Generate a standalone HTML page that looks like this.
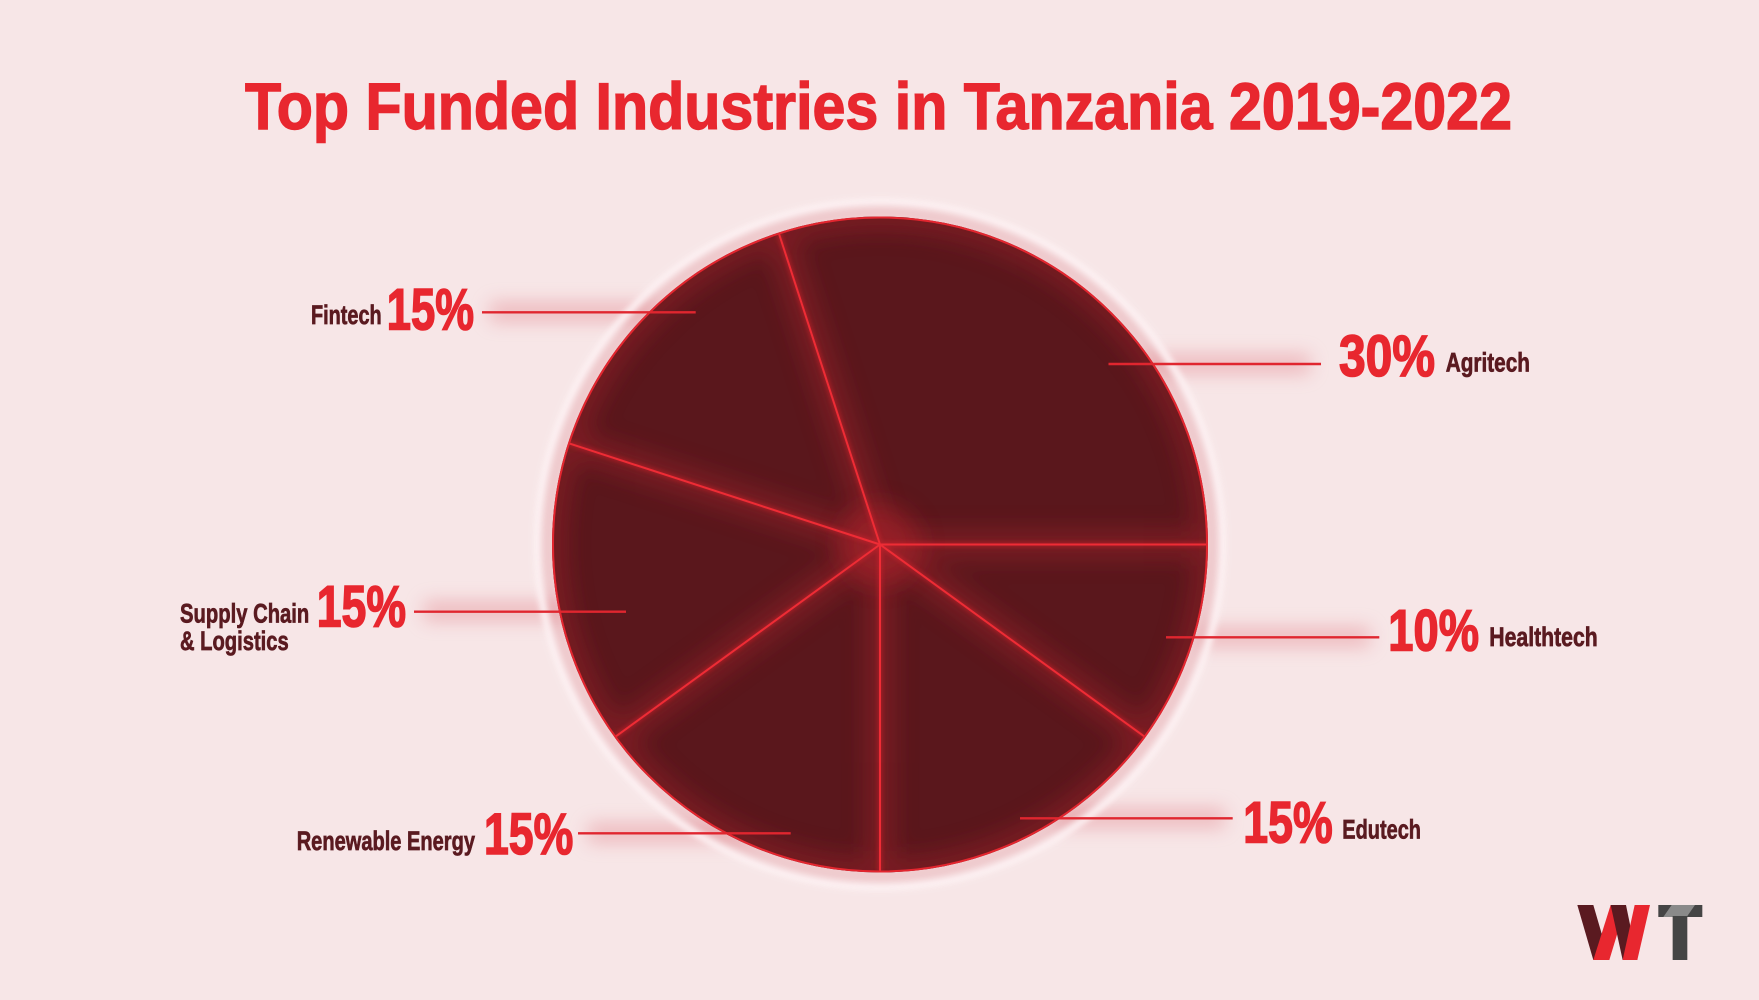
<!DOCTYPE html>
<html>
<head>
<meta charset="utf-8">
<style>
  html,body{margin:0;padding:0;background:#f7e6e7;}
  svg{display:block;}
  .pct{font-family:"Liberation Sans Narrow","Liberation Sans",sans-serif;font-weight:bold;fill:#e8272f;stroke:#e8272f;stroke-width:1.6;}
  .lab{font-family:"Liberation Sans Narrow","Liberation Sans",sans-serif;font-weight:bold;fill:#5a1a20;stroke:#5a1a20;stroke-width:0.7;}
  .title{font-family:"Liberation Sans",sans-serif;font-weight:bold;fill:#e8272f;stroke:#e8272f;stroke-width:1.4;}
</style>
</head>
<body>
<svg width="1759" height="1000" viewBox="0 0 1759 1000" xmlns="http://www.w3.org/2000/svg">
  <defs>
    <filter id="b3" x="-50%" y="-50%" width="200%" height="200%"><feGaussianBlur stdDeviation="3"/></filter>
    <filter id="b6" x="-50%" y="-50%" width="200%" height="200%"><feGaussianBlur stdDeviation="6"/></filter>
    <filter id="b9" x="-50%" y="-50%" width="200%" height="200%"><feGaussianBlur stdDeviation="9"/></filter>
    <filter id="b12" x="-50%" y="-50%" width="200%" height="200%"><feGaussianBlur stdDeviation="12"/></filter>
    <filter id="b2" x="-50%" y="-50%" width="200%" height="200%"><feGaussianBlur stdDeviation="2"/></filter>
    <clipPath id="pie"><circle cx="880" cy="544.5" r="328"/></clipPath>
  </defs>

  <rect width="1759" height="1000" fill="#f7e6e7"/>

  <!-- title -->
  <text class="title" x="245" y="129" font-size="66" textLength="1267" lengthAdjust="spacingAndGlyphs">Top Funded Industries in Tanzania 2019-2022</text>

  <!-- label line glows (behind) -->
  <g fill="#e48e95" opacity="0.5" filter="url(#b9)">
    <rect x="490" y="302" width="170" height="20"/>
    <rect x="1140" y="354" width="170" height="20"/>
    <rect x="1200" y="627" width="170" height="20"/>
    <rect x="1055" y="808" width="170" height="20"/>
    <rect x="588" y="823" width="170" height="20"/>
    <rect x="424" y="601" width="170" height="20"/>
  </g>

  <!-- halo ring -->
  <circle cx="880" cy="544.5" r="342" fill="none" stroke="#fff8f9" stroke-width="8" filter="url(#b3)" opacity="0.95"/>
  <circle cx="880" cy="544.5" r="332" fill="none" stroke="#dc8a92" stroke-width="8" filter="url(#b6)" opacity="0.6"/>

  <!-- pie body -->
  <circle cx="880" cy="544.5" r="328" fill="#5a171c"/>
  <g clip-path="url(#pie)">
    <g stroke="#9a2229" stroke-width="26" fill="none" filter="url(#b12)" opacity="0.55">
      <circle cx="880" cy="544.5" r="328"/>
      <line x1="880" y1="544.5" x2="1208" y2="544.5"/>
      <line x1="880" y1="544.5" x2="778.6" y2="232.5"/>
      <line x1="880" y1="544.5" x2="568.1" y2="443.1"/>
      <line x1="880" y1="544.5" x2="614.6" y2="737.3"/>
      <line x1="880" y1="544.5" x2="880" y2="872.5"/>
      <line x1="880" y1="544.5" x2="1145.4" y2="737.3"/>
    </g>
    <circle cx="880" cy="544.5" r="40" fill="#b0232c" filter="url(#b12)" opacity="0.5"/>
    <g stroke="#e0232d" stroke-width="5" fill="none" filter="url(#b2)" opacity="0.45">
      <line x1="880" y1="544.5" x2="1208" y2="544.5"/>
      <line x1="880" y1="544.5" x2="778.6" y2="232.5"/>
      <line x1="880" y1="544.5" x2="568.1" y2="443.1"/>
      <line x1="880" y1="544.5" x2="614.6" y2="737.3"/>
      <line x1="880" y1="544.5" x2="880" y2="872.5"/>
      <line x1="880" y1="544.5" x2="1145.4" y2="737.3"/>
    </g>
    <g stroke="#ee2c35" stroke-width="2" fill="none">
      <line x1="880" y1="544.5" x2="1208" y2="544.5"/>
      <line x1="880" y1="544.5" x2="778.6" y2="232.5"/>
      <line x1="880" y1="544.5" x2="568.1" y2="443.1"/>
      <line x1="880" y1="544.5" x2="614.6" y2="737.3"/>
      <line x1="880" y1="544.5" x2="880" y2="872.5"/>
      <line x1="880" y1="544.5" x2="1145.4" y2="737.3"/>
    </g>
  </g>
  <circle cx="880" cy="544.5" r="327" fill="none" stroke="#e3262f" stroke-width="2"/>

  <!-- label lines -->
  <g stroke="#e0262f" stroke-width="2.4">
    <line x1="482" y1="312.3" x2="695.7" y2="312.3"/>
    <line x1="1108.5" y1="364" x2="1321" y2="364"/>
    <line x1="1166" y1="637.3" x2="1379.3" y2="637.3"/>
    <line x1="1020" y1="818.3" x2="1232.7" y2="818.3"/>
    <line x1="578" y1="833.3" x2="790.7" y2="833.3"/>
    <line x1="414" y1="611.7" x2="626" y2="611.7"/>
  </g>

  <!-- Fintech -->
  <text class="lab" x="311" y="324" font-size="27" textLength="70.7" lengthAdjust="spacingAndGlyphs">Fintech</text>
  <text class="pct" x="386.7" y="329.3" font-size="58" textLength="87.3" lengthAdjust="spacingAndGlyphs">15%</text>

  <!-- Agritech -->
  <text class="pct" x="1339" y="376" font-size="58" textLength="96" lengthAdjust="spacingAndGlyphs">30%</text>
  <text class="lab" x="1445.7" y="371.7" font-size="27" textLength="84.3" lengthAdjust="spacingAndGlyphs">Agritech</text>

  <!-- Healthtech -->
  <text class="pct" x="1388.3" y="650.7" font-size="58" textLength="90.7" lengthAdjust="spacingAndGlyphs">10%</text>
  <text class="lab" x="1489.3" y="646" font-size="27" textLength="108.4" lengthAdjust="spacingAndGlyphs">Healthtech</text>

  <!-- Edutech -->
  <text class="pct" x="1243.3" y="842.3" font-size="58" textLength="89.4" lengthAdjust="spacingAndGlyphs">15%</text>
  <text class="lab" x="1342.3" y="838.3" font-size="27" textLength="78.7" lengthAdjust="spacingAndGlyphs">Edutech</text>

  <!-- Renewable Energy -->
  <text class="lab" x="296.7" y="850" font-size="27" textLength="178.3" lengthAdjust="spacingAndGlyphs">Renewable Energy</text>
  <text class="pct" x="484" y="854" font-size="58" textLength="89.3" lengthAdjust="spacingAndGlyphs">15%</text>

  <!-- Supply Chain -->
  <text class="lab" x="180" y="622.3" font-size="27" textLength="129.3" lengthAdjust="spacingAndGlyphs">Supply Chain</text>
  <text class="lab" x="180" y="650" font-size="27" textLength="108.7" lengthAdjust="spacingAndGlyphs">&amp; Logistics</text>
  <text class="pct" x="316.7" y="626.7" font-size="58" textLength="89.3" lengthAdjust="spacingAndGlyphs">15%</text>

  <!-- WT logo -->
  <g transform="translate(1540,880) scale(0.3333)">
    <polygon points="112,75 160,75 208,240 160,240" fill="#5a1a20"/>
    <polygon points="160,240 208,240 258,75 212,75" fill="#e8272f"/>
    <polygon points="212,75 258,75 292,240 248,240" fill="#5a1a20"/>
    <polygon points="248,240 292,240 330,75 284,75" fill="#e8272f"/>
    <rect x="355" y="75" width="132" height="36" fill="#454545"/>
    <polygon points="395,75 465,75 440,111 370,111" fill="#8a8a8a"/>
    <rect x="398" y="108" width="44" height="132" fill="#454545"/>
  </g>
</svg>
</body>
</html>
